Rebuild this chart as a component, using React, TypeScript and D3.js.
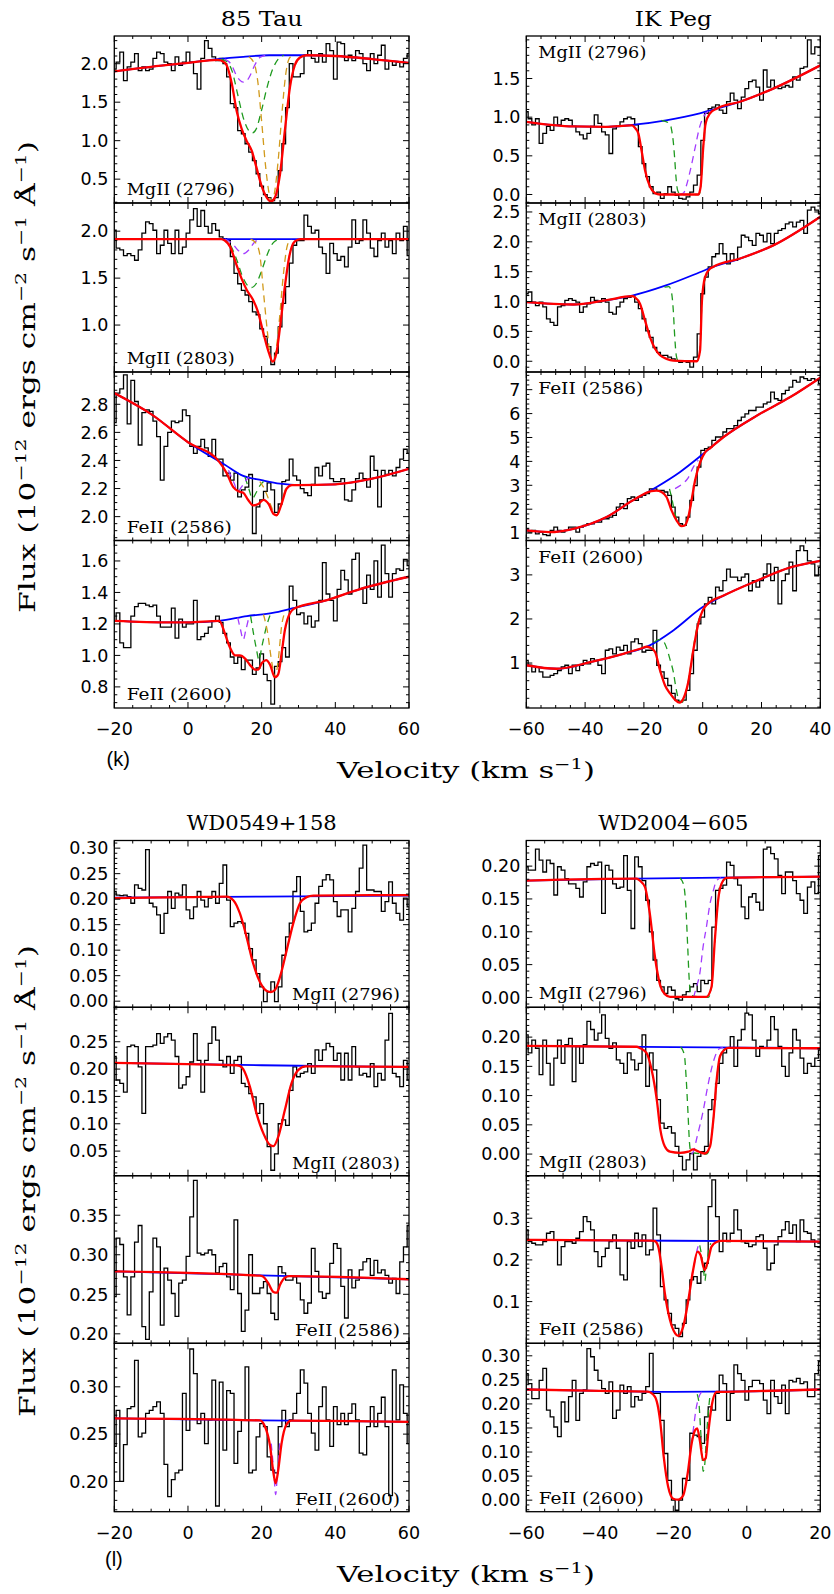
import React from 'react';
import * as d3 from 'd3';

type Pt = [number, number];

// ---------- 85 Tau : bins start at -20 km/s, 1 km/s wide ----------
const tauMg2796 = [
  1.93, 2.02, 2.15, 1.78, 1.96, 2.02, 2.13, 1.91, 1.96, 1.91, 1.93, 2.07, 2.15, 2.13, 2.02, 2.0, 1.91, 2.09, 1.98, 2.02,
  2.15, 2.02, 1.87, 1.67, 2.07, 2.3, 2.2, 2.09, 2.04, 2.07,
  2.0, 1.83, 1.48, 1.43, 1.13, 1.09, 0.96, 0.85, 0.74, 0.57,
  0.41, 0.3, 0.26, 0.22, 0.26, 0.61, 0.96, 1.43, 2.0, 1.83,
  1.83, 1.87, 2.11, 2.17, 2.07, 2.02, 2.13, 2.02, 2.26, 2.17,
  1.8, 2.28, 2.26, 2.04, 2.11, 2.04, 2.17, 2.13, 2.0, 1.91,
  2.13, 2.0, 2.11, 2.24, 1.93, 2.04, 1.98, 2.02, 1.96, 2.07,
  2.13,
];
const tauMg2796Cont: Pt[] = [[-20, 1.9], [-10, 1.96], [0, 2.01], [8, 2.06], [15, 2.09], [22, 2.11], [32, 2.11], [40, 2.1], [50, 2.06], [60, 2.01]];
const tauMg2796Fit: Pt[] = [[-20, 1.9], [-10, 1.96], [0, 2.01], [8, 2.05], [9.5, 2.03], [10.5, 1.98], [11.9, 1.74], [13.2, 1.39], [14.6, 1.15], [15.9, 1.0], [17.3, 0.87], [18.6, 0.65], [20, 0.41], [21.4, 0.26], [22.5, 0.21], [23.6, 0.26], [25, 0.57], [26.3, 1.13], [27.7, 1.7], [29, 1.98], [30.4, 2.08], [32.2, 2.11], [40, 2.1], [50, 2.06], [60, 2.01]];
const tauMg2796Green: Pt[] = [[9, 2.06], [10.5, 2.03], [12, 1.9], [13.5, 1.6], [15, 1.3], [16.5, 1.13], [17.5, 1.1], [18.5, 1.15], [20, 1.4], [21.5, 1.7], [23, 1.93], [24.5, 2.06], [26, 2.11]];
const tauMg2796Purple: Pt[] = [[10, 2.06], [12, 1.97], [13, 1.86], [14, 1.79], [15, 1.76], [16, 1.78], [17, 1.86], [18, 1.97], [19.5, 2.08], [21, 2.11]];
const tauMg2796Orange: Pt[] = [[16.5, 2.09], [18, 2.0], [19, 1.75], [20, 1.25], [21, 0.7], [22, 0.32], [22.6, 0.21], [23.4, 0.3], [24.5, 0.75], [25.5, 1.35], [26.5, 1.85], [27.5, 2.07], [28.5, 2.11]];

const tauMg2803 = [
  2.01, 1.82, 1.8, 1.74, 1.76, 1.74, 1.69, 1.8, 1.98, 2.1, 2.08, 2.01, 1.76, 1.85, 2.01, 1.87, 1.76, 2.01, 1.76, 1.83,
  1.98, 2.12, 2.24, 2.05, 2.22, 2.05, 1.98, 2.08, 2.01, 1.94,
  1.92, 1.9, 1.73, 1.55, 1.44, 1.37, 1.32, 1.25, 1.14, 1.11,
  0.96, 0.88, 0.77, 0.58, 0.7, 0.98, 1.23, 1.41, 1.66, 1.85,
  1.9, 1.9, 2.17, 2.05, 1.98, 2.01, 1.83, 1.76, 1.55, 1.87,
  1.76, 1.69, 1.73, 1.62, 1.83, 2.12, 1.87, 1.9, 2.12, 1.98,
  1.82, 1.73, 1.9, 1.98, 1.83, 1.9, 1.76, 1.98, 1.9, 2.05,
  1.74,
];
const tauMg2803Cont: Pt[] = [[-20, 1.915], [20, 1.915], [60, 1.915]];
const tauMg2803Fit: Pt[] = [[-20, 1.915], [9, 1.915], [10, 1.9], [11.5, 1.83], [13, 1.66], [14.5, 1.5], [16, 1.37], [17.5, 1.28], [19, 1.14], [20.5, 0.91], [22, 0.7], [23, 0.61], [24, 0.7], [25, 0.98], [26.3, 1.41], [27.5, 1.73], [29, 1.89], [30.5, 1.915], [60, 1.915]];
const tauMg2803Green: Pt[] = [[9, 1.915], [11, 1.88], [13, 1.72], [15, 1.5], [16.5, 1.41], [17.3, 1.4], [18.5, 1.44], [20, 1.58], [21.5, 1.75], [23, 1.87], [24.5, 1.91]];
const tauMg2803Purple: Pt[] = [[10, 1.915], [12, 1.87], [13.5, 1.8], [15, 1.76], [16.5, 1.8], [18, 1.88], [19.5, 1.915]];
const tauMg2803Orange: Pt[] = [[17, 1.915], [18.5, 1.87], [19.5, 1.75], [20.5, 1.35], [21.5, 0.95], [22.3, 0.68], [23, 0.61], [23.8, 0.7], [24.8, 1.05], [25.8, 1.5], [27, 1.85], [28, 1.915]];

const tauFe2586 = [
  2.67, 2.88, 2.91, 3.01, 2.66, 2.97, 2.82, 2.51, 2.74, 2.76, 2.75, 2.68, 2.57, 2.26, 2.5, 2.6, 2.68, 2.67, 2.68, 2.76,
  2.72, 2.5, 2.45, 2.5, 2.55, 2.49, 2.43, 2.55, 2.41, 2.41,
  2.29, 2.31, 2.26, 2.31, 2.14, 2.19, 2.21, 2.3, 1.88, 2.07,
  2.12, 2.18, 2.24, 2.19, 2.03, 2.09, 2.25, 2.26, 2.41, 2.29,
  2.26, 2.2, 2.17, 2.15, 2.23, 2.35, 2.29, 2.36, 2.38, 2.27,
  2.25, 2.25, 2.27, 2.12, 2.11, 2.19, 2.27, 2.31, 2.27, 2.21,
  2.43, 2.33, 2.07, 2.33, 2.3, 2.33, 2.29, 2.35, 2.41, 2.48,
  2.45,
];
const tauFe2586Cont: Pt[] = [[-20, 2.88], [-10, 2.73], [0, 2.53], [10, 2.37], [15, 2.29], [20, 2.26], [25, 2.235], [30, 2.225], [40, 2.23], [50, 2.27], [60, 2.34]];
const tauFe2586Fit: Pt[] = [[-20, 2.88], [-10, 2.73], [0, 2.53], [8.5, 2.39], [10.5, 2.31], [12.3, 2.21], [13.7, 2.18], [15, 2.17], [16.3, 2.12], [17.7, 2.08], [19.1, 2.09], [20.5, 2.12], [21.9, 2.09], [23.2, 2.02], [24.1, 2.01], [25.4, 2.09], [26.8, 2.2], [28.2, 2.225], [30, 2.225], [40, 2.23], [50, 2.27], [60, 2.34]];
const tauFe2586Green: Pt[] = [[15.5, 2.28], [16.5, 2.2], [17.5, 2.13], [18.5, 2.17], [19.5, 2.22], [20.5, 2.25]];
const tauFe2586Purple: Pt[] = [[11, 2.33], [12.5, 2.24], [13.5, 2.18], [14.5, 2.21], [15.5, 2.25], [16.5, 2.28]];
const tauFe2586Orange: Pt[] = [[19.5, 2.25], [20.5, 2.21], [21.5, 2.15], [22.5, 2.08], [23.5, 2.02], [24.2, 2.01], [25.3, 2.09], [26.5, 2.2]];

const tauFe2600 = [
  1.22, 1.27, 1.08, 1.05, 1.05, 1.25, 1.31, 1.33, 1.33, 1.32, 1.31, 1.32, 1.25, 1.18, 1.18, 1.18, 1.3, 1.11, 1.23, 1.18,
  1.2, 1.2, 1.35, 1.1, 1.12, 1.14, 1.18, 1.22, 1.25, 1.21,
  1.14, 1.08, 0.99, 0.95, 0.99, 0.91, 0.97, 0.97, 0.88, 0.92,
  1.01, 0.88, 0.84, 0.69, 0.93, 0.96, 1.05, 0.99, 1.44, 1.35,
  1.26, 1.27, 1.2, 1.25, 1.18, 1.22, 1.35, 1.59, 1.39, 1.35,
  1.22, 1.42, 1.54, 1.48, 1.39, 1.61, 1.65, 1.42, 1.33, 1.51,
  1.42, 1.6, 1.37, 1.7, 1.52, 1.37, 1.52, 1.55, 1.54, 1.61,
  1.57,
];
const tauFe2600Cont: Pt[] = [[-20, 1.22], [-5, 1.21], [0, 1.21], [8.5, 1.22], [16, 1.25], [23, 1.27], [28.5, 1.3], [37.5, 1.35], [46.5, 1.42], [60, 1.5]];
const tauFe2600Fit: Pt[] = [[-20, 1.22], [-5, 1.21], [0, 1.21], [8.5, 1.22], [10, 1.14], [11.4, 1.05], [12.8, 1.0], [14.1, 1.0], [15.5, 0.98], [16.8, 0.94], [18.2, 0.91], [19.1, 0.91], [20, 0.95], [21.2, 0.97], [22.3, 0.94], [23.6, 0.86], [24.5, 0.88], [25.4, 1.01], [26.3, 1.16], [27.7, 1.27], [29, 1.3], [37.5, 1.35], [46.5, 1.42], [60, 1.5]];
const tauFe2600Green: Pt[] = [[17, 1.25], [18.5, 1.05], [19.3, 0.97], [20, 1.05], [21.5, 1.2], [22.5, 1.27]];
const tauFe2600Purple: Pt[] = [[13.5, 1.24], [14.3, 1.16], [15, 1.1], [15.7, 1.16], [16.5, 1.24]];
const tauFe2600Orange: Pt[] = [[20.5, 1.26], [21.5, 1.16], [22.8, 0.95], [23.6, 0.86], [24.4, 0.95], [25.5, 1.2], [26.5, 1.28]];

// ---------- IK Peg : bins start at -60 km/s, 1.25 km/s wide ----------
const pegMg2796 = [
  1.07, 0.98, 0.9, 0.98, 0.66, 0.79, 0.88, 0.83, 1.0, 0.9,
  0.96, 0.98, 0.96, 0.88, 0.81, 0.77, 0.72, 0.79, 0.88, 1.03,
  0.92, 0.81, 0.77, 0.53, 0.85, 0.88, 0.94, 0.98, 1.0, 0.98,
  0.9, 0.62, 0.4, 0.23, 0.1, 0.01, 0.03, -0.05, 0.01, 0.1,
  0.03, -0.01, -0.05, -0.06, -0.03, 0.03, 0.12, 0.25, 0.7, 1.05,
  1.11, 1.13, 1.16, 1.09, 1.05, 1.2, 1.31, 1.22, 1.11, 1.26,
  1.37, 1.46, 1.48, 1.39, 1.22, 1.61, 1.39, 1.48, 1.39, 1.37,
  1.39, 1.41, 1.39, 1.52, 1.48, 1.63, 1.65, 2.0, 1.82, 1.91,
  1.91,
];
const pegMg2796Cont: Pt[] = [[-60, 0.94], [-44, 0.88], [-33, 0.875], [-24, 0.9], [-12.5, 0.96], [-1, 1.05], [4.7, 1.11], [12.7, 1.2], [24, 1.37], [40, 1.67]];
const pegMg2796Fit: Pt[] = [[-60, 0.94], [-44, 0.88], [-33, 0.875], [-24, 0.895], [-22.8, 0.85], [-21.9, 0.79], [-20.8, 0.57], [-19.6, 0.31], [-17.9, 0.1], [-16.3, 0.02], [-14.5, 0.0], [-1.5, 0.0], [-0.7, 0.1], [0.2, 0.62], [1.0, 0.92], [2.5, 1.05], [4.7, 1.11], [12.7, 1.2], [24, 1.37], [40, 1.67]];
const pegMg2796Green: Pt[] = [[-14, 0.96], [-11.1, 0.91], [-10.5, 0.82], [-10, 0.68], [-9.5, 0.45], [-9.1, 0.23], [-8.5, 0.05], [-7.5, 0.0], [-1.2, 0.0], [-0.7, 0.1], [0.2, 0.62], [1, 0.92], [2.5, 1.06]];
const pegMg2796Purple: Pt[] = [[-8, 0.0], [-6.5, 0.02], [-5.5, 0.12], [-4, 0.35], [-2.5, 0.62], [-1, 0.88], [0.5, 1.02], [2, 1.08]];

const pegMg2803 = [
  1.13, 1.16, 0.99, 0.93, 0.99, 0.91, 0.71, 0.65, 0.6, 0.91,
  0.93, 1.02, 1.05, 1.02, 0.99, 0.82, 0.91, 0.96, 1.07, 1.02,
  0.99, 1.05, 0.99, 0.82, 0.79, 0.91, 0.99, 1.05, 1.07, 1.1,
  0.99, 0.88, 0.71, 0.51, 0.4, 0.23, 0.15, 0.1, 0.1, 0.07,
  0.04, 0.01, -0.02, 0.01, -0.02, -0.1, 0.07, 0.46, 1.13, 1.41,
  1.58, 1.75, 1.8, 1.97, 1.8, 1.63, 1.8, 1.69, 1.91, 2.11,
  2.08, 2.02, 1.94, 2.14, 2.11, 2.0, 2.14, 1.97, 2.14, 2.19,
  2.22, 2.3, 2.33, 2.25, 2.33, 2.36, 2.14, 2.53, 2.58, 2.53,
  2.47,
];
const pegMg2803Cont: Pt[] = [[-60, 0.99], [-44, 0.95], [-33, 1.02], [-24, 1.1], [-12.5, 1.27], [-1, 1.49], [3.5, 1.58], [12.7, 1.72], [24, 1.94], [40, 2.42]];
const pegMg2803Fit: Pt[] = [[-60, 0.99], [-44, 0.95], [-33, 1.02], [-24, 1.09], [-23, 1.07], [-21.3, 0.96], [-19.6, 0.68], [-17.9, 0.4], [-16.2, 0.21], [-14.5, 0.1], [-12.3, 0.04], [-10, 0.01], [-2, 0.0], [-0.9, 0.18], [-0.25, 1.02], [0.8, 1.41], [2.5, 1.55], [3.5, 1.58], [12.7, 1.72], [24, 1.94], [40, 2.42]];
const pegMg2803Green: Pt[] = [[-13, 1.24], [-11.5, 1.25], [-10.6, 1.15], [-10, 0.85], [-9.5, 0.4], [-9, 0.1], [-8.4, 0.01], [-2, 0.0], [-1, 0.15], [-0.3, 0.95], [0.8, 1.38], [2.5, 1.56]];

const pegFe2586 = [
  1.18, 1.04, 1.11, 0.97, 1.04, 0.94, 0.9, 1.11, 1.25, 1.11,
  1.04, 1.11, 1.25, 1.25, 1.04, 1.25, 1.32, 1.39, 1.39, 1.46,
  1.46, 1.6, 1.6, 1.67, 1.74, 2.09, 2.23, 2.02, 2.44, 2.51,
  2.37, 2.51, 2.58, 2.65, 2.85, 2.85, 2.79, 2.79, 2.72, 2.58,
  2.09, 1.67, 1.39, 1.32, 1.67, 2.37, 2.99, 3.76, 4.46, 4.53,
  4.6, 4.88, 5.02, 5.02, 5.23, 5.37, 5.37, 5.5, 5.71, 5.85,
  5.99, 6.13, 6.13, 6.27, 6.27, 6.41, 6.48, 6.9, 6.62, 6.55,
  6.83, 6.97, 7.11, 7.39, 7.32, 7.53, 7.46, 7.39, 7.46, 7.39,
  7.25,
];
const pegFe2586Cont: Pt[] = [[-60, 1.11], [-52, 1.04], [-44, 1.18], [-32.7, 1.67], [-23.7, 2.37], [-15.8, 2.92], [-7.8, 3.55], [0, 4.3], [7.1, 5.02], [18.5, 5.92], [29.8, 6.69], [40, 7.5]];
const pegFe2586Fit: Pt[] = [[-60, 1.11], [-52, 1.04], [-44, 1.18], [-32.7, 1.67], [-23.7, 2.37], [-17.5, 2.76], [-15.8, 2.78], [-14, 2.72], [-12.3, 2.51], [-10.6, 1.95], [-8.9, 1.53], [-7.2, 1.29], [-6.1, 1.32], [-4.9, 1.67], [-3.8, 2.37], [-2.6, 3.2], [-0.9, 3.95], [0.8, 4.38], [2.5, 4.55], [7.1, 5.02], [18.5, 5.92], [29.8, 6.69], [40, 7.5]];
const pegFe2586Green: Pt[] = [[-11.3, 2.85], [-10.5, 2.45], [-9.5, 1.85], [-8.5, 1.45], [-7.5, 1.28], [-6.5, 1.3], [-5.5, 1.5], [-4.5, 1.9], [-3.5, 2.55], [-2.5, 3.25], [-1.5, 3.8], [-0.5, 4.1]];
const pegFe2586Purple: Pt[] = [[-9.4, 2.86], [-7, 3.05], [-5, 3.3], [-3.2, 3.76], [-1.5, 4.05]];

const pegFe2600 = [
  1.06, 0.95, 0.8, 0.91, 0.8, 0.68, 0.68, 0.72, 0.76, 0.83,
  0.91, 0.95, 0.76, 0.95, 0.83, 0.95, 1.06, 0.98, 1.1, 1.06,
  0.95, 0.76, 1.29, 1.32, 1.21, 1.36, 1.29, 1.4, 1.21, 1.48,
  1.55, 1.44, 1.25, 1.29, 1.29, 1.74, 0.95, 0.8, 0.65, 0.49,
  0.31, 0.16, 0.12, 0.16, 0.38, 0.76, 1.29, 1.89, 2.04, 2.34,
  2.49, 2.34, 2.72, 2.64, 2.87, 3.13, 2.95, 2.95, 2.87, 2.95,
  3.02, 2.64, 2.87, 2.72, 2.87, 3.02, 3.25, 2.87, 3.17, 2.34,
  2.87, 3.02, 3.29, 2.64, 3.55, 3.66, 3.55, 3.32, 3.25, 2.98,
  3.17,
];
const pegFe2600Cont: Pt[] = [[-60, 0.95], [-49.7, 0.87], [-38.3, 1.02], [-27, 1.21], [-18, 1.4], [-10, 1.74], [0, 2.27], [7.1, 2.53], [18.5, 2.87], [29.8, 3.17], [40, 3.32]];
const pegFe2600Fit: Pt[] = [[-60, 0.95], [-49.7, 0.87], [-38.3, 1.02], [-27, 1.21], [-21, 1.33], [-19, 1.37], [-17.9, 1.35], [-16.2, 1.25], [-14.5, 0.83], [-12.8, 0.49], [-11.1, 0.31], [-9.3, 0.16], [-7.9, 0.1], [-6.6, 0.19], [-4.9, 0.57], [-3.2, 1.29], [-1.5, 1.89], [0.3, 2.23], [1.5, 2.33], [7.1, 2.53], [18.5, 2.87], [29.8, 3.17], [40, 3.32]];
const pegFe2600Green: Pt[] = [[-16.5, 1.47], [-15, 1.53], [-13.5, 1.5], [-12.3, 1.35], [-11.2, 1.1], [-10, 0.8], [-9, 0.4], [-8, 0.15], [-7, 0.12], [-6, 0.25], [-5, 0.55], [-3.5, 1.2], [-2, 1.8], [-0.5, 2.15]];

// ---------- WD0549+158 : bins start at -20 km/s, 1 km/s wide ----------
const wd0549Mg2796 = [
  0.215, 0.208, 0.207, 0.208, 0.205, 0.192, 0.228, 0.221, 0.218, 0.297, 0.192, 0.185, 0.169, 0.133, 0.172, 0.215, 0.182, 0.212, 0.208, 0.228,
  0.179, 0.162, 0.185, 0.215, 0.198, 0.185, 0.202, 0.215, 0.192, 0.231,
  0.267, 0.198, 0.146, 0.153, 0.156, 0.153, 0.133, 0.103, 0.081, 0.054,
  0.028, -0.001, 0.018, 0.038, -0.001, 0.028, 0.09, 0.126, 0.153, 0.215,
  0.244, 0.176, 0.136, 0.139, 0.153, 0.192, 0.225, 0.238, 0.248, 0.238,
  0.195, 0.166, 0.179, 0.179, 0.136, 0.182, 0.215, 0.261, 0.306, 0.218,
  0.218, 0.215, 0.215, 0.176, 0.195, 0.234, 0.192, 0.172, 0.159, 0.202,
  0.185,
];
const wd0549Mg2796Cont: Pt[] = [[-20, 0.203], [20, 0.205], [60, 0.207]];
const wd0549Mg2796Fit: Pt[] = [[-20, 0.202], [0, 0.204], [10.5, 0.205], [12.3, 0.198], [14.1, 0.172], [15.9, 0.126], [17.7, 0.074], [19.5, 0.038], [21.4, 0.02], [22.5, 0.018], [23.6, 0.022], [25, 0.048], [26.8, 0.1], [28.6, 0.153], [30.4, 0.192], [32.2, 0.204], [34, 0.207], [60, 0.208]];

const wd0549Mg2803 = [
  0.223, 0.18, 0.174, 0.158, 0.241, 0.244, 0.241, 0.204, 0.119, 0.241, 0.241, 0.244, 0.265, 0.247, 0.259, 0.265, 0.253, 0.223, 0.165, 0.171,
  0.186, 0.213, 0.265, 0.216, 0.158, 0.216, 0.247, 0.277, 0.253, 0.216,
  0.204, 0.223, 0.192, 0.216, 0.223, 0.174, 0.168, 0.155, 0.149, 0.119,
  0.137, 0.1, 0.058, 0.015, 0.045, 0.1, 0.107, 0.097, 0.161, 0.204,
  0.186, 0.192, 0.195, 0.21, 0.192, 0.235, 0.216, 0.235, 0.247, 0.241,
  0.216, 0.229, 0.18, 0.229, 0.18, 0.241, 0.204, 0.189, 0.192, 0.186,
  0.21, 0.168, 0.192, 0.18, 0.253, 0.302, 0.192, 0.186, 0.168, 0.216,
  0.18,
];
const wd0549Mg2803Cont: Pt[] = [[-20, 0.2115], [20, 0.207], [60, 0.204]];
const wd0549Mg2803Fit: Pt[] = [[-20, 0.2115], [0, 0.209], [13.2, 0.207], [14, 0.206], [15, 0.2], [16.8, 0.168], [18.6, 0.119], [20.5, 0.082], [22.3, 0.061], [23.2, 0.059], [24.5, 0.076], [26.3, 0.125], [28.1, 0.174], [29.9, 0.198], [32, 0.205], [60, 0.204]];

const wd0549Fe2586 = [
  0.247, 0.321, 0.313, 0.272, 0.224, 0.272, 0.316, 0.337, 0.209, 0.193, 0.253, 0.321, 0.31, 0.211, 0.283, 0.268, 0.251, 0.222, 0.264, 0.268,
  0.298, 0.348, 0.394, 0.302, 0.3, 0.302, 0.306, 0.3, 0.277, 0.285,
  0.289, 0.272, 0.256, 0.344, 0.251, 0.203, 0.23, 0.3, 0.251, 0.251,
  0.258, 0.266, 0.251, 0.226, 0.218, 0.285, 0.277, 0.268, 0.268, 0.272,
  0.264, 0.243, 0.226, 0.239, 0.308, 0.279, 0.253, 0.245, 0.251, 0.289,
  0.314, 0.308, 0.26, 0.22, 0.281, 0.258, 0.268, 0.281, 0.291, 0.295,
  0.274, 0.293, 0.277, 0.281, 0.274, 0.264, 0.27, 0.251, 0.291, 0.31,
  0.337,
];
const wd0549Fe2586Cont: Pt[] = [[-20, 0.279], [20, 0.274], [60, 0.269]];
const wd0549Fe2586Fit: Pt[] = [[-20, 0.279], [19.5, 0.2735], [20.5, 0.272], [21.8, 0.264], [23.2, 0.253], [24.1, 0.252], [25, 0.262], [26.3, 0.271], [27.5, 0.273], [60, 0.269]];

const wd0549Fe2600 = [
  0.237, 0.275, 0.2, 0.239, 0.277, 0.279, 0.328, 0.247, 0.251, 0.272, 0.275, 0.279, 0.284, 0.272, 0.218, 0.184, 0.202, 0.209, 0.212, 0.293,
  0.254, 0.34, 0.314, 0.261, 0.272, 0.24, 0.265, 0.307, 0.174, 0.305,
  0.233, 0.296, 0.293, 0.219, 0.253, 0.265, 0.321, 0.209, 0.212, 0.247,
  0.261, 0.258, 0.226, 0.212, 0.209, 0.258, 0.275, 0.258, 0.265, 0.272,
  0.293, 0.318, 0.304, 0.272, 0.251, 0.233, 0.279, 0.3, 0.265, 0.237,
  0.279, 0.26, 0.272, 0.26, 0.272, 0.282, 0.265, 0.23, 0.228, 0.258,
  0.279, 0.258, 0.272, 0.289, 0.258, 0.185, 0.318, 0.265, 0.302, 0.272,
  0.24,
];
const wd0549Fe2600Cont: Pt[] = [[-20, 0.2667], [20, 0.2645], [60, 0.263]];
const wd0549Fe2600Fit: Pt[] = [[-20, 0.2667], [19.5, 0.2645], [20.9, 0.258], [22.3, 0.237], [23.2, 0.209], [23.8, 0.198], [24.5, 0.212], [25.4, 0.24], [26.8, 0.2605], [28, 0.2642], [60, 0.263]];
const wd0549Fe2600Purple: Pt[] = [[22.6, 0.24], [23.3, 0.21], [23.8, 0.186], [24.3, 0.21], [25, 0.245]];

// ---------- WD2004-605 : bins start at -60 km/s, 1 km/s wide ----------
const wd2004Mg2796 = [
  0.199, 0.194, 0.194, 0.226, 0.209, 0.191, 0.209, 0.204, 0.156, 0.199,
  0.194, 0.181, 0.173, 0.173, 0.166, 0.153, 0.176, 0.199, 0.204, 0.201,
  0.206, 0.128, 0.201, 0.194, 0.173, 0.166, 0.168, 0.216, 0.163, 0.105,
  0.214, 0.199, 0.178, 0.148, 0.1, 0.057, 0.026, 0.016, 0.006, 0.016,
  0.011, -0.002, -0.004, 0.004, 0.009, 0.016, 0.021, 0.009, 0.026, 0.021,
  0.026, 0.107, 0.163, 0.166, 0.171, 0.206, 0.201, 0.181, 0.171, 0.138,
  0.12, 0.153, 0.158, 0.145, 0.133, 0.226, 0.229, 0.219, 0.211, 0.186,
  0.158, 0.191, 0.191, 0.178, 0.158, 0.148, 0.128, 0.168, 0.176, 0.158,
  0.216,
];
const wd2004Mg2796Cont: Pt[] = [[-60, 0.178], [-30, 0.181], [20, 0.184]];
const wd2004Mg2796Fit: Pt[] = [[-60, 0.178], [-30, 0.181], [-29.1, 0.178], [-27.7, 0.168], [-26.4, 0.128], [-25, 0.062], [-23.6, 0.019], [-22.3, 0.005], [-20.9, 0.001], [-11, 0.001], [-9.6, 0.016], [-8.7, 0.087], [-7.8, 0.148], [-6.9, 0.173], [-5.5, 0.182], [20, 0.184]];
const wd2004Mg2796Green: Pt[] = [[-18.2, 0.182], [-17.2, 0.172], [-16.6, 0.14], [-16.1, 0.08], [-15.7, 0.03], [-15.2, 0.003], [-10.5, 0.0], [-9.6, 0.016], [-8.7, 0.087], [-7.8, 0.148], [-6.9, 0.173], [-5.5, 0.182]];
const wd2004Mg2796Purple: Pt[] = [[-14.5, 0.0], [-13.7, 0.016], [-12.8, 0.036], [-11.9, 0.077], [-11, 0.107], [-10, 0.143], [-9.1, 0.163], [-8.2, 0.178], [-7, 0.182]];

const wd2004Mg2803 = [
  0.204, 0.173, 0.195, 0.181, 0.136, 0.195, 0.155, 0.118, 0.164, 0.195,
  0.155, 0.187, 0.198, 0.124, 0.184, 0.155, 0.187, 0.227, 0.213, 0.195,
  0.207, 0.238, 0.198, 0.181, 0.19, 0.161, 0.155, 0.138, 0.173, 0.161,
  0.144, 0.155, 0.204, 0.116, 0.173, 0.144, 0.093, 0.053, 0.044, 0.047,
  0.036, 0.013, -0.004, -0.027, -0.01, 0.001, -0.027, -0.004, 0.004, 0.013,
  0.076, 0.093, 0.121, 0.155, 0.173, 0.181, 0.201, 0.15, 0.195, 0.213,
  0.241, 0.238, 0.195, 0.167, 0.184, 0.181, 0.195, 0.235, 0.213, 0.184,
  0.15, 0.133, 0.173, 0.213, 0.195, 0.164, 0.138, 0.155, 0.15, 0.164,
  0.178,
];
const wd2004Mg2803Cont: Pt[] = [[-60, 0.185], [-20, 0.183], [20, 0.181]];
const wd2004Mg2803Fit: Pt[] = [[-60, 0.185], [-30, 0.1835], [-29, 0.181], [-27.3, 0.173], [-25.9, 0.144], [-24.5, 0.093], [-23.5, 0.041], [-22.3, 0.013], [-20.9, 0.004], [-18.2, 0.002], [-15.9, 0.004], [-14.6, 0.008], [-13, 0.004], [-11.4, 0.001], [-10, 0.013], [-9.1, 0.059], [-8.2, 0.127], [-7.3, 0.167], [-6, 0.179], [-5, 0.1815], [20, 0.181]];
const wd2004Mg2803Green: Pt[] = [[-18, 0.183], [-17, 0.17], [-16.5, 0.13], [-16, 0.07], [-15.6, 0.02], [-15.2, 0.003], [-11, 0.0], [-10, 0.013], [-9.1, 0.059], [-8.2, 0.127], [-7.3, 0.167], [-6, 0.18]];
const wd2004Mg2803Purple: Pt[] = [[-15, 0.0], [-14.5, 0.005], [-13.5, 0.03], [-12, 0.07], [-10.5, 0.12], [-9, 0.16], [-7.5, 0.18], [-6.5, 0.182]];

const wd2004Fe2586 = [
  0.272, 0.244, 0.24, 0.236, 0.236, 0.244, 0.264, 0.268, 0.248, 0.188,
  0.232, 0.244, 0.244, 0.24, 0.252, 0.268, 0.304, 0.292, 0.272, 0.22,
  0.184, 0.208, 0.228, 0.244, 0.26, 0.228, 0.164, 0.152, 0.244, 0.228,
  0.264, 0.232, 0.26, 0.212, 0.224, 0.324, 0.26, 0.136, 0.104, 0.072,
  0.044, 0.036, 0.016, 0.048, 0.104, 0.152, 0.16, 0.144, 0.172, 0.192,
  0.328, 0.392, 0.304, 0.22, 0.264, 0.244, 0.264, 0.32, 0.272, 0.244,
  0.24, 0.232, 0.236, 0.256, 0.26, 0.228, 0.176, 0.192, 0.236, 0.256,
  0.272, 0.292, 0.264, 0.284, 0.244, 0.296, 0.268, 0.264, 0.248, 0.232,
  0.232,
];
const wd2004Fe2586Cont: Pt[] = [[-60, 0.248], [-20, 0.246], [20, 0.244]];
const wd2004Fe2586Fit: Pt[] = [[-60, 0.248], [-26, 0.2465], [-25, 0.245], [-24.1, 0.232], [-23.2, 0.184], [-22.3, 0.12], [-20.9, 0.056], [-19.5, 0.024], [-18.7, 0.018], [-17.3, 0.04], [-15.9, 0.104], [-14.6, 0.176], [-13.4, 0.22], [-12.6, 0.212], [-11.5, 0.176], [-10.5, 0.2], [-9.6, 0.232], [-8.2, 0.243], [-7, 0.2455], [20, 0.244]];
const wd2004Fe2586Green: Pt[] = [[-12.8, 0.235], [-12.2, 0.205], [-11.7, 0.17], [-11.4, 0.15], [-11.1, 0.17], [-10.5, 0.215], [-9.8, 0.24]];
const wd2004Fe2586Purple: Pt[] = [[-15, 0.16], [-14.3, 0.19], [-13.5, 0.225], [-12.8, 0.242]];

const wd2004Fe2600 = [
  0.263, 0.242, 0.211, 0.211, 0.249, 0.274, 0.187, 0.173, 0.152, 0.132,
  0.204, 0.163, 0.215, 0.249, 0.166, 0.222, 0.229, 0.315, 0.298, 0.27,
  0.249, 0.232, 0.222, 0.246, 0.17, 0.187, 0.239, 0.222, 0.236, 0.194,
  0.215, 0.208, 0.222, 0.236, 0.305, 0.222, 0.222, 0.166, 0.097, 0.041,
  0.0, -0.021, 0.0, 0.045, 0.041, 0.139, 0.135, 0.132, 0.118, 0.173,
  0.194, 0.187, 0.222, 0.26, 0.242, 0.166, 0.222, 0.281, 0.263, 0.249,
  0.208, 0.236, 0.249, 0.249, 0.242, 0.208, 0.18, 0.249, 0.215, 0.201,
  0.239, 0.18, 0.249, 0.246, 0.253, 0.242, 0.246, 0.215, 0.215, 0.263,
  0.288,
];
const wd2004Fe2600Cont: Pt[] = [[-60, 0.23], [-40, 0.227], [-20, 0.225], [0, 0.226], [20, 0.23]];
const wd2004Fe2600Fit: Pt[] = [[-60, 0.23], [-40, 0.227], [-27, 0.2255], [-25, 0.215], [-23.6, 0.166], [-22.6, 0.09], [-21.4, 0.028], [-20, 0.003], [-18.7, 0.001], [-17.3, 0.01], [-16.1, 0.055], [-15, 0.118], [-14.1, 0.145], [-13.5, 0.149], [-12.8, 0.125], [-11.9, 0.083], [-11.2, 0.087], [-10.5, 0.139], [-9.6, 0.194], [-8.2, 0.225], [0, 0.226], [20, 0.23]];
const wd2004Fe2600Green: Pt[] = [[-13.5, 0.22], [-13, 0.2], [-12.6, 0.15], [-12.2, 0.1], [-11.9, 0.06], [-11.5, 0.07], [-11, 0.13], [-10.5, 0.18], [-10, 0.22]];
const wd2004Fe2600Purple: Pt[] = [[-15.5, 0.09], [-14.5, 0.15], [-13.8, 0.19], [-13, 0.215], [-12.3, 0.225]];

// ---------- layout ----------
const LEFT: [number, number] = [114.3, 409];
const RIGHT: [number, number] = [526.3, 820.3];
const TOP_ROWS = [36, 203, 372, 540.5, 708];
const BOT_ROWS = [840.5, 1007.3, 1175.7, 1343.3, 1511.7];

const GREEN = '#1f9a1f';
const PURPLE = '#a33cff';
const ORANGE = '#d19a1c';

const SERIF = '"DejaVu Serif", serif';
const SANS = '"DejaVu Sans", sans-serif';

type Comp = { pts: Pt[]; color: string };
type Spec = {
  cols: [number, number]; top: number; bottom: number;
  vDomain: [number, number]; vTicks: number[]; v0: number; dv: number;
  flux: number[]; cont: Pt[]; fit: Pt[]; comps: Comp[];
  yDomain: [number, number]; yTicks: number[]; yMinor: number; yFmt: string;
  label: string; labelW: number; labelAt: 'bl' | 'tl' | 'br'; showX: boolean;
};

const tauTicks = [-20, 0, 20, 40, 60];
const pegTicks = [-60, -40, -20, 0, 20, 40];
const wdTicks = [-60, -40, -20, 0, 20];

const panels: Spec[] = [
  { cols: LEFT, top: TOP_ROWS[0], bottom: TOP_ROWS[1], vDomain: [-20, 60], vTicks: tauTicks, v0: -20, dv: 1, flux: tauMg2796, cont: tauMg2796Cont, fit: tauMg2796Fit, comps: [{ pts: tauMg2796Green, color: GREEN }, { pts: tauMg2796Purple, color: PURPLE }, { pts: tauMg2796Orange, color: ORANGE }], yDomain: [0.19, 2.36], yTicks: [0.5, 1.0, 1.5, 2.0], yMinor: 0.1, yFmt: '.1f', label: 'MgII (2796)', labelW: 108, labelAt: 'bl', showX: false },
  { cols: LEFT, top: TOP_ROWS[1], bottom: TOP_ROWS[2], vDomain: [-20, 60], vTicks: tauTicks, v0: -20, dv: 1, flux: tauMg2803, cont: tauMg2803Cont, fit: tauMg2803Fit, comps: [{ pts: tauMg2803Green, color: GREEN }, { pts: tauMg2803Purple, color: PURPLE }, { pts: tauMg2803Orange, color: ORANGE }], yDomain: [0.5, 2.3], yTicks: [1.0, 1.5, 2.0], yMinor: 0.1, yFmt: '.1f', label: 'MgII (2803)', labelW: 108, labelAt: 'bl', showX: false },
  { cols: LEFT, top: TOP_ROWS[2], bottom: TOP_ROWS[3], vDomain: [-20, 60], vTicks: tauTicks, v0: -20, dv: 1, flux: tauFe2586, cont: tauFe2586Cont, fit: tauFe2586Fit, comps: [{ pts: tauFe2586Green, color: GREEN }, { pts: tauFe2586Purple, color: PURPLE }, { pts: tauFe2586Orange, color: ORANGE }], yDomain: [1.83, 3.03], yTicks: [2.0, 2.2, 2.4, 2.6, 2.8], yMinor: 0.05, yFmt: '.1f', label: 'FeII (2586)', labelW: 105, labelAt: 'bl', showX: false },
  { cols: LEFT, top: TOP_ROWS[3], bottom: TOP_ROWS[4], vDomain: [-20, 60], vTicks: tauTicks, v0: -20, dv: 1, flux: tauFe2600, cont: tauFe2600Cont, fit: tauFe2600Fit, comps: [{ pts: tauFe2600Green, color: GREEN }, { pts: tauFe2600Purple, color: PURPLE }, { pts: tauFe2600Orange, color: ORANGE }], yDomain: [0.666, 1.73], yTicks: [0.8, 1.0, 1.2, 1.4, 1.6], yMinor: 0.05, yFmt: '.1f', label: 'FeII (2600)', labelW: 105, labelAt: 'bl', showX: true },

  { cols: RIGHT, top: TOP_ROWS[0], bottom: TOP_ROWS[1], vDomain: [-60, 40], vTicks: pegTicks, v0: -60, dv: 1.25, flux: pegMg2796, cont: pegMg2796Cont, fit: pegMg2796Fit, comps: [{ pts: pegMg2796Green, color: GREEN }, { pts: pegMg2796Purple, color: PURPLE }], yDomain: [-0.11, 2.05], yTicks: [0, 0.5, 1.0, 1.5], yMinor: 0.1, yFmt: '.1f', label: 'MgII (2796)', labelW: 108, labelAt: 'tl', showX: false },
  { cols: RIGHT, top: TOP_ROWS[1], bottom: TOP_ROWS[2], vDomain: [-60, 40], vTicks: pegTicks, v0: -60, dv: 1.25, flux: pegMg2803, cont: pegMg2803Cont, fit: pegMg2803Fit, comps: [{ pts: pegMg2803Green, color: GREEN }], yDomain: [-0.18, 2.65], yTicks: [0, 0.5, 1.0, 1.5, 2.0, 2.5], yMinor: 0.1, yFmt: '.1f', label: 'MgII (2803)', labelW: 108, labelAt: 'tl', showX: false },
  { cols: RIGHT, top: TOP_ROWS[2], bottom: TOP_ROWS[3], vDomain: [-60, 40], vTicks: pegTicks, v0: -60, dv: 1.25, flux: pegFe2586, cont: pegFe2586Cont, fit: pegFe2586Fit, comps: [{ pts: pegFe2586Green, color: GREEN }, { pts: pegFe2586Purple, color: PURPLE }], yDomain: [0.69, 7.74], yTicks: [1, 2, 3, 4, 5, 6, 7], yMinor: 0.2, yFmt: 'd', label: 'FeII (2586)', labelW: 105, labelAt: 'tl', showX: false },
  { cols: RIGHT, top: TOP_ROWS[3], bottom: TOP_ROWS[4], vDomain: [-60, 40], vTicks: pegTicks, v0: -60, dv: 1.25, flux: pegFe2600, cont: pegFe2600Cont, fit: pegFe2600Fit, comps: [{ pts: pegFe2600Green, color: GREEN }], yDomain: [-0.02, 3.78], yTicks: [1, 2, 3], yMinor: 0.2, yFmt: 'd', label: 'FeII (2600)', labelW: 105, labelAt: 'tl', showX: true },

  { cols: LEFT, top: BOT_ROWS[0], bottom: BOT_ROWS[1], vDomain: [-20, 60], vTicks: tauTicks, v0: -20, dv: 1, flux: wd0549Mg2796, cont: wd0549Mg2796Cont, fit: wd0549Mg2796Fit, comps: [], yDomain: [-0.012, 0.315], yTicks: [0, 0.05, 0.1, 0.15, 0.2, 0.25, 0.3], yMinor: 0.01, yFmt: '.2f', label: 'MgII (2796)', labelW: 108, labelAt: 'br', showX: false },
  { cols: LEFT, top: BOT_ROWS[1], bottom: BOT_ROWS[2], vDomain: [-20, 60], vTicks: tauTicks, v0: -20, dv: 1, flux: wd0549Mg2803, cont: wd0549Mg2803Cont, fit: wd0549Mg2803Fit, comps: [], yDomain: [0.005, 0.313], yTicks: [0.05, 0.1, 0.15, 0.2, 0.25], yMinor: 0.01, yFmt: '.2f', label: 'MgII (2803)', labelW: 108, labelAt: 'br', showX: false },
  { cols: LEFT, top: BOT_ROWS[2], bottom: BOT_ROWS[3], vDomain: [-20, 60], vTicks: tauTicks, v0: -20, dv: 1, flux: wd0549Fe2586, cont: wd0549Fe2586Cont, fit: wd0549Fe2586Fit, comps: [], yDomain: [0.188, 0.4], yTicks: [0.2, 0.25, 0.3, 0.35], yMinor: 0.01, yFmt: '.2f', label: 'FeII (2586)', labelW: 105, labelAt: 'br', showX: false },
  { cols: LEFT, top: BOT_ROWS[3], bottom: BOT_ROWS[4], vDomain: [-20, 60], vTicks: tauTicks, v0: -20, dv: 1, flux: wd0549Fe2600, cont: wd0549Fe2600Cont, fit: wd0549Fe2600Fit, comps: [{ pts: wd0549Fe2600Purple, color: PURPLE }], yDomain: [0.168, 0.346], yTicks: [0.2, 0.25, 0.3], yMinor: 0.01, yFmt: '.2f', label: 'FeII (2600)', labelW: 105, labelAt: 'br', showX: true },

  { cols: RIGHT, top: BOT_ROWS[0], bottom: BOT_ROWS[1], vDomain: [-60, 20], vTicks: wdTicks, v0: -60, dv: 1, flux: wd2004Mg2796, cont: wd2004Mg2796Cont, fit: wd2004Mg2796Fit, comps: [{ pts: wd2004Mg2796Green, color: GREEN }, { pts: wd2004Mg2796Purple, color: PURPLE }], yDomain: [-0.015, 0.239], yTicks: [0, 0.05, 0.1, 0.15, 0.2], yMinor: 0.01, yFmt: '.2f', label: 'MgII (2796)', labelW: 108, labelAt: 'bl', showX: false },
  { cols: RIGHT, top: BOT_ROWS[1], bottom: BOT_ROWS[2], vDomain: [-60, 20], vTicks: wdTicks, v0: -60, dv: 1, flux: wd2004Mg2803, cont: wd2004Mg2803Cont, fit: wd2004Mg2803Fit, comps: [{ pts: wd2004Mg2803Green, color: GREEN }, { pts: wd2004Mg2803Purple, color: PURPLE }], yDomain: [-0.037, 0.251], yTicks: [0, 0.05, 0.1, 0.15, 0.2], yMinor: 0.01, yFmt: '.2f', label: 'MgII (2803)', labelW: 108, labelAt: 'bl', showX: false },
  { cols: RIGHT, top: BOT_ROWS[2], bottom: BOT_ROWS[3], vDomain: [-60, 20], vTicks: wdTicks, v0: -60, dv: 1, flux: wd2004Fe2586, cont: wd2004Fe2586Cont, fit: wd2004Fe2586Fit, comps: [{ pts: wd2004Fe2586Green, color: GREEN }, { pts: wd2004Fe2586Purple, color: PURPLE }], yDomain: [0.0, 0.402], yTicks: [0.1, 0.2, 0.3], yMinor: 0.01, yFmt: '.1f', label: 'FeII (2586)', labelW: 105, labelAt: 'bl', showX: false },
  { cols: RIGHT, top: BOT_ROWS[3], bottom: BOT_ROWS[4], vDomain: [-60, 20], vTicks: wdTicks, v0: -60, dv: 1, flux: wd2004Fe2600, cont: wd2004Fe2600Cont, fit: wd2004Fe2600Fit, comps: [{ pts: wd2004Fe2600Green, color: GREEN }, { pts: wd2004Fe2600Purple, color: PURPLE }], yDomain: [-0.024, 0.326], yTicks: [0, 0.05, 0.1, 0.15, 0.2, 0.25, 0.3], yMinor: 0.01, yFmt: '.2f', label: 'FeII (2600)', labelW: 105, labelAt: 'bl', showX: true },
];

const titles = [
  { text: '85 Tau', x: 261.7, y: 26, w: 82 },
  { text: 'IK Peg', x: 673.3, y: 26, w: 77 },
  { text: 'WD0549+158', x: 261.7, y: 830, w: 150 },
  { text: 'WD2004\u2212605', x: 673.3, y: 830, w: 150 },
];

const Panel = ({ p, id }: { p: Spec; id: string }) => {
  const [x0, x1] = p.cols;
  const x = d3.scaleLinear().domain(p.vDomain).range([x0, x1]);
  const y = d3.scaleLinear().domain(p.yDomain).range([p.bottom, p.top]);
  const hist = d3.line<number>().x((_, i) => x(p.v0 + i * p.dv)).y(d => y(d)).curve(d3.curveStep);
  const smooth = d3.line<Pt>().x(d => x(d[0])).y(d => y(d[1])).curve(d3.curveMonotoneX);

  const xMinor = d3.range(p.vDomain[0], p.vDomain[1] + 0.001, 5);
  const k0 = Math.ceil(p.yDomain[0] / p.yMinor - 1e-6);
  const k1 = Math.floor(p.yDomain[1] / p.yMinor + 1e-6);
  const yMinor = d3.range(k0, k1 + 1).map(k => k * p.yMinor);
  const fmt = d3.format(p.yFmt);
  const xfmt = d3.format('d');
  const MAJ = 6, MIN = 3;

  let lx = x0 + 12.4, ly = p.bottom - 8, anchor: 'start' | 'end' = 'start';
  if (p.labelAt === 'tl') { lx = x0 + 12; ly = p.top + 22; }
  if (p.labelAt === 'br') { lx = x1 - 9; ly = p.bottom - 7; anchor = 'end'; }

  return (
    <g>
      <defs>
        <clipPath id={id}>
          <rect x={x0} y={p.top} width={x1 - x0} height={p.bottom - p.top} />
        </clipPath>
      </defs>
      <g clipPath={`url(#${id})`} fill="none">
        <path d={hist(p.flux) || ''} stroke="#000" strokeWidth={1.3} />
        <path d={smooth(p.cont) || ''} stroke="#0000ff" strokeWidth={1.8} />
        {p.comps.map((c, i) => (
          <path key={i} d={smooth(c.pts) || ''} stroke={c.color} strokeWidth={1.3} strokeDasharray="7 5" />
        ))}
        <path d={smooth(p.fit) || ''} stroke="#ff0000" strokeWidth={2.3} />
      </g>
      <g stroke="#000" strokeWidth={1}>
        {xMinor.map(v => {
          const len = p.vTicks.includes(v) ? MAJ : MIN;
          return (
            <g key={'x' + v}>
              <line x1={x(v)} x2={x(v)} y1={p.bottom} y2={p.bottom - len} />
              <line x1={x(v)} x2={x(v)} y1={p.top} y2={p.top + len} />
            </g>
          );
        })}
        {yMinor.map(v => {
          const len = p.yTicks.some(t => Math.abs(t - v) < 1e-6) ? MAJ : MIN;
          return (
            <g key={'y' + v}>
              <line x1={x0} x2={x0 + len} y1={y(v)} y2={y(v)} />
              <line x1={x1} x2={x1 - len} y1={y(v)} y2={y(v)} />
            </g>
          );
        })}
      </g>
      <rect x={x0} y={p.top} width={x1 - x0} height={p.bottom - p.top} fill="none" stroke="#000" strokeWidth={1.3} />
      <g fontFamily={SANS} fontSize={17.5} fill="#000">
        {p.yTicks.map(t => (
          <text key={t} x={x0 - 6} y={y(t)} dy="0.36em" textAnchor="end">{fmt(t)}</text>
        ))}
        {p.showX && p.vTicks.map(t => (
          <text key={t} x={x(t)} y={p.bottom + 27} textAnchor="middle">{xfmt(t)}</text>
        ))}
      </g>
      <text x={lx} y={ly} textAnchor={anchor} fontFamily={SERIF} fontSize={16.5}
        textLength={p.labelW} lengthAdjust="spacingAndGlyphs">{p.label}</text>
    </g>
  );
};

const FluxLabel = ({ cy }: { cy: number }) => (
  <text transform={`translate(35,${cy}) rotate(-90)`} textAnchor="middle" fontFamily={SERIF} fontSize={23}
    textLength={472} lengthAdjust="spacingAndGlyphs">
    Flux (10<tspan dy={-9} fontSize={15}>{'\u221212'}</tspan>
    <tspan dy={9}> ergs cm</tspan><tspan dy={-9} fontSize={15}>{'\u22122'}</tspan>
    <tspan dy={9}> s</tspan><tspan dy={-9} fontSize={15}>{'\u22121'}</tspan>
    <tspan dy={9}> {'\u00C5'}</tspan><tspan dy={-9} fontSize={15}>{'\u22121'}</tspan>
    <tspan dy={9}>)</tspan>
  </text>
);

const VelLabel = ({ y }: { y: number }) => (
  <text x={466} y={y} textAnchor="middle" fontFamily={SERIF} fontSize={22}
    textLength={258} lengthAdjust="spacingAndGlyphs">
    Velocity (km s<tspan dy={-9} fontSize={14}>{'\u22121'}</tspan><tspan dy={9}>)</tspan>
  </text>
);

export default function App() {
  return (
    <svg width={834} height={1594} viewBox="0 0 834 1594"
      style={{ position: 'absolute', left: 0, top: 0, background: '#fff' }}>
      <rect width={834} height={1594} fill="#fff" />
      {panels.map((p, i) => <Panel key={i} p={p} id={'clip' + i} />)}
      {titles.map(t => (
        <text key={t.text} x={t.x} y={t.y} textAnchor="middle" fontFamily={SERIF} fontSize={21}
          textLength={t.w} lengthAdjust="spacingAndGlyphs">{t.text}</text>
      ))}
      <FluxLabel cy={377} />
      <FluxLabel cy={1181} />
      <VelLabel y={778} />
      <VelLabel y={1582} />
      <text x={106.5} y={766} fontFamily='"Liberation Sans", sans-serif' fontSize={20}>(k)</text>
      <text x={105} y={1566} fontFamily='"Liberation Sans", sans-serif' fontSize={20}>(l)</text>
    </svg>
  );
}
